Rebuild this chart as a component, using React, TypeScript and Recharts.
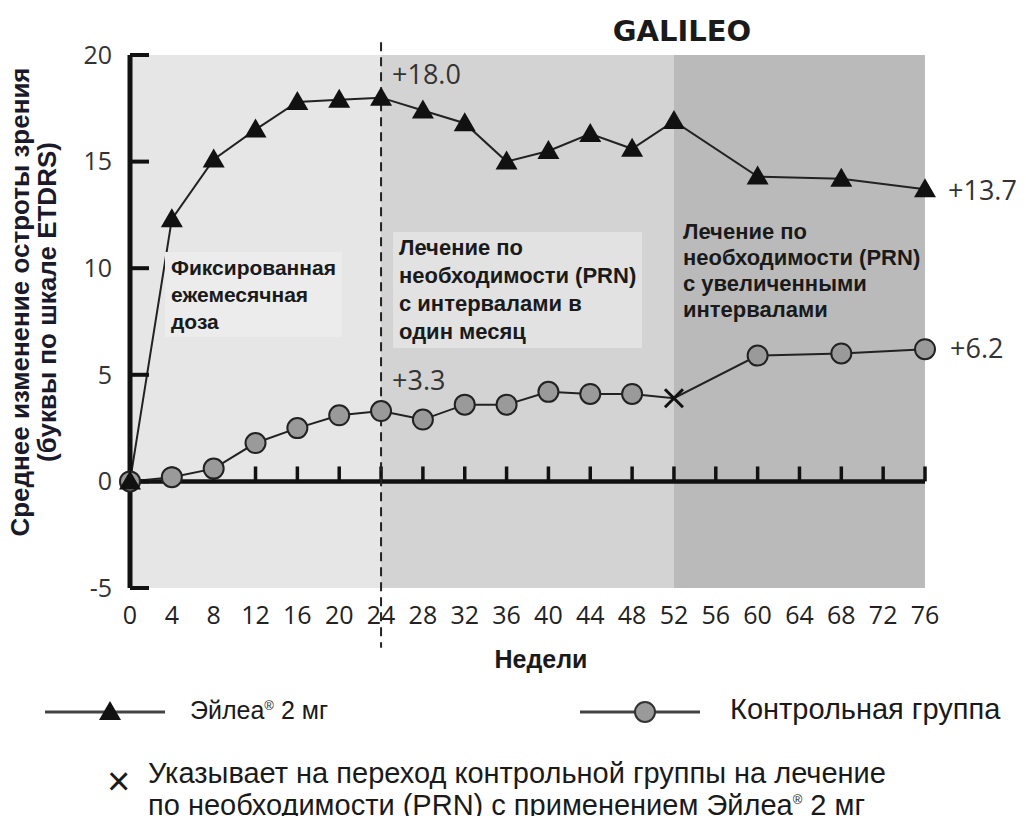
import { LineChart, Line, XAxis, YAxis, ReferenceArea, ReferenceLine } from 'recharts';

const WEEKS = [0, 4, 8, 12, 16, 20, 24, 28, 32, 36, 40, 44, 48, 52, 60, 68, 76];
const EYLEA = [0, 12.3, 15.1, 16.5, 17.8, 17.9, 18.0, 17.4, 16.8, 15.0, 15.5, 16.3, 15.6, 16.9, 14.3, 14.2, 13.7];
const CONTROL = [0, 0.2, 0.6, 1.8, 2.5, 3.1, 3.3, 2.9, 3.6, 3.6, 4.2, 4.1, 4.1, 3.9, 5.9, 6.0, 6.2];

const X_TICKS = [0, 4, 8, 12, 16, 20, 24, 28, 32, 36, 40, 44, 48, 52, 56, 60, 64, 68, 72, 76];
const ZERO_TICKS = X_TICKS.slice(1);
const Y_TICKS = [-5, 0, 5, 10, 15, 20];
const LABELED_WEEKS = [24, 76];
const SWITCH_WEEK = 52;

const PHASES = [
  { from: 0, to: 24, fill: '#e6e6e6' },
  { from: 24, to: 52, fill: '#d3d3d3' },
  { from: 52, to: 76, fill: '#bababa' }
];

const data = WEEKS.map((week, i) => ({ week, eylea: EYLEA[i], control: CONTROL[i] }));

const TICK_FONT = '"Open Sans", sans-serif';
const NOTE_FONT = '"Liberation Sans", Arial, sans-serif';

const TriangleDot = (props: any) => {
  const { cx, cy, index } = props;
  return (
    <polygon
      key={`tri-${index}`}
      points={`${cx},${cy - 11} ${cx + 11},${cy + 8} ${cx - 11},${cy + 8}`}
      fill="#111"
    />
  );
};

const ControlDot = (props: any) => {
  const { cx, cy, index, payload } = props;
  if (payload.week === SWITCH_WEEK) {
    return (
      <g key={`ctl-${index}`} stroke="#111" strokeWidth={3}>
        <line x1={cx - 9} y1={cy - 9} x2={cx + 9} y2={cy + 9} />
        <line x1={cx - 9} y1={cy + 9} x2={cx + 9} y2={cy - 9} />
      </g>
    );
  }
  return <circle key={`ctl-${index}`} cx={cx} cy={cy} r={10} fill="#9a9a9a" stroke="#222" strokeWidth={2} />;
};

// offsets for the week-24 and week-76 value labels
const makeLabel = (mid: [number, number], end: [number, number]) => (props: any) => {
  const { x, y, value, index } = props;
  const week = WEEKS[index];
  if (!LABELED_WEEKS.includes(week)) return <g key={`lbl-${index}`} />;
  const [dx, dy] = week === 76 ? end : mid;
  return (
    <text
      key={`lbl-${index}`}
      x={x + dx}
      y={y + dy}
      dominantBaseline="central"
      fontSize={27}
      fill="#333"
      fontFamily={TICK_FONT}
    >
      {`+${Number(value).toFixed(1)}`}
    </text>
  );
};

const noteStyle = (left: number, top: number, size: number, lh: number, bg?: string): React.CSSProperties => ({
  position: 'absolute',
  left,
  top,
  padding: '2px 6px',
  background: bg ?? 'transparent',
  fontFamily: NOTE_FONT,
  fontWeight: 'bold',
  fontSize: size,
  lineHeight: `${lh}px`,
  color: '#1a1a1a',
  whiteSpace: 'nowrap'
});

export default function App() {
  return (
    <div style={{ position: 'relative', width: 1010, height: 808, background: '#fff' }}>
      <LineChart width={1010} height={640} data={data} margin={{ top: 47, right: 93, left: 62, bottom: 20 }}>
        {PHASES.map((p) => (
          <ReferenceArea key={p.from} x1={p.from} x2={p.to} y1={-5} y2={20} fill={p.fill} fillOpacity={1} stroke="none" />
        ))}
        <XAxis
          type="number"
          dataKey="week"
          domain={[0, 76]}
          ticks={X_TICKS}
          interval={0}
          axisLine={false}
          tickLine={false}
          tickSize={0}
          tickMargin={18}
          height={40}
          tick={{ fontSize: 25, fill: '#222', fontFamily: TICK_FONT }}
        />
        <YAxis
          type="number"
          domain={[-5, 20]}
          ticks={Y_TICKS}
          interval={0}
          width={60}
          axisLine={{ stroke: '#111', strokeWidth: 5 }}
          tickLine={{ stroke: '#111', strokeWidth: 4 }}
          tickSize={-19}
          tickMargin={37}
          tick={{ fontSize: 25, fill: '#333', fontFamily: TICK_FONT }}
        />
        <ReferenceLine y={0} stroke="#111" strokeWidth={4.5} />
        {ZERO_TICKS.map((w) => (
          <ReferenceLine
            key={`zt-${w}`}
            segment={[{ x: w, y: 0 }, { x: w, y: 0.7 }]}
            stroke="#111"
            strokeWidth={3.5}
          />
        ))}
        <ReferenceLine
          segment={[{ x: 24, y: 20.6 }, { x: 24, y: -7.8 }]}
          ifOverflow="visible"
          stroke="#222"
          strokeWidth={2}
          strokeDasharray="9 6"
        />
        <Line
          dataKey="control"
          stroke="#222"
          strokeWidth={2}
          dot={ControlDot}
          label={makeLabel([11, -32], [25, -2])}
          isAnimationActive={false}
        />
        <Line
          dataKey="eylea"
          stroke="#222"
          strokeWidth={2}
          dot={TriangleDot}
          label={makeLabel([11, -24], [23, 0])}
          isAnimationActive={false}
        />
      </LineChart>

      <div
        style={{
          position: 'absolute',
          left: 674 - 150,
          top: 6,
          width: 300,
          textAlign: 'center',
          fontFamily: '"DejaVu Sans", sans-serif',
          fontWeight: 'bold',
          fontSize: 29,
          color: '#1a1a1a'
        }}
      >
        GALILEO
      </div>

      {[
        { text: 'Среднее изменение остроты зрения', cx: 12 },
        { text: '(буквы по шкале ETDRS)', cx: 39 }
      ].map((l) => (
        <div
          key={l.cx}
          style={{
            position: 'absolute',
            left: l.cx - 300,
            top: 294 - 14,
            width: 600,
            height: 28,
            lineHeight: '28px',
            textAlign: 'center',
            transform: 'rotate(-90deg)',
            fontFamily: NOTE_FONT,
            fontWeight: 'bold',
            fontSize: 26,
            color: '#1a1a2a',
            whiteSpace: 'nowrap'
          }}
        >
          {l.text}
        </div>
      ))}

      <div
        style={{
          position: 'absolute',
          left: 533 - 100,
          top: 637,
          width: 200,
          textAlign: 'center',
          fontFamily: NOTE_FONT,
          fontWeight: 'bold',
          fontSize: 25,
          color: '#1a1a1a'
        }}
      >
        Недели
      </div>

      <div style={noteStyle(157, 244, 21, 27, '#ececec')}>
        Фиксированная
        <br />
        ежемесячная
        <br />
        доза
      </div>
      <div style={noteStyle(385, 224, 22, 28, '#e2e2e2')}>
        Лечение по
        <br />
        необходимости (PRN)
        <br />
        с интервалами в
        <br />
        один месяц
      </div>
      <div style={noteStyle(669, 209, 22, 26)}>
        Лечение по
        <br />
        необходимости (PRN)
        <br />
        с увеличенными
        <br />
        интервалами
      </div>

      <svg style={{ position: 'absolute', left: 0, top: 680 }} width={1010} height={50}>
        <line x1={37} y1={24} x2={157} y2={24} stroke="#444" strokeWidth={3} />
        <polygon points="102,13 113,32 91,32" fill="#111" />
        <line x1={572} y1={24} x2={692} y2={24} stroke="#444" strokeWidth={3} />
        <circle cx={637} cy={24} r={10} fill="#9a9a9a" stroke="#333" strokeWidth={2} />
      </svg>
      <div style={{ position: 'absolute', left: 182, top: 688, fontFamily: NOTE_FONT, fontSize: 25, color: '#1a1a1a' }}>
        Эйлеа<sup style={{ fontSize: 13, lineHeight: 0 }}>®</sup> 2 мг
      </div>
      <div style={{ position: 'absolute', left: 722, top: 685, fontFamily: NOTE_FONT, fontSize: 29, color: '#1a1a1a' }}>
        Контрольная группа
      </div>

      <div style={{ position: 'absolute', left: 99, top: 753, fontFamily: NOTE_FONT, fontSize: 40, lineHeight: '40px', color: '#1a1a1a' }}>
        ×
      </div>
      <div
        style={{
          position: 'absolute',
          left: 140,
          top: 749,
          fontFamily: NOTE_FONT,
          fontSize: 29,
          lineHeight: '32px',
          color: '#1a1a1a',
          whiteSpace: 'nowrap'
        }}
      >
        Указывает на переход контрольной группы на лечение
        <br />
        по необходимости (PRN) с применением Эйлеа<sup style={{ fontSize: 13, lineHeight: 0 }}>®</sup> 2 мг
      </div>
    </div>
  );
}
